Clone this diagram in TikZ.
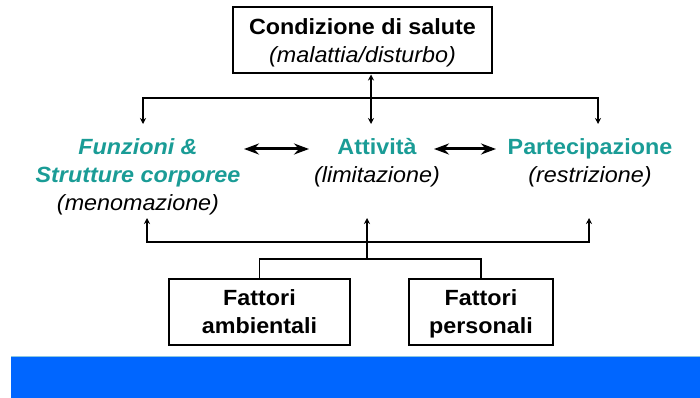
\documentclass[tikz,border=0pt]{standalone}
\usepackage{fontspec}
\setmainfont{Liberation Sans}[FakeStretch=1.06]
\usepackage{tikz}
\usetikzlibrary{arrows.meta}
\tikzset{>=stealth}
\usepackage{xcolor}
\definecolor{myteal}{HTML}{1A9C96}
\definecolor{myband}{HTML}{0066FF}
\definecolor{myedge}{HTML}{8CC8E0}
\tikzset{
	punta/.tip={Stealth[length=6pt,width=6pt]},
	puntona/.tip={Stealth[length=15pt,width=11pt,inset=5pt]},
	box/.style={draw, line width=2pt, inner sep=0pt, minimum height=66pt, align=center, text depth=0pt},
	lbl/.style={inner sep=0pt, align=center, anchor=north},
	link/.style={line width=1.8pt, -punta},
	twoway/.style={line width=3pt, puntona-puntona}
}

\begin{document}
\begin{tikzpicture}[x=1pt, y=-1pt, font=\fontsize{22}{28}\selectfont]
				\useasboundingbox (0,0) rectangle (700,398);
				\fill[myband] (11,356) rectangle (700,398);
				\draw[myedge, line width=1pt] (11,356.5) -- (700,356.5);
				% boxes and labels
				\node[box, minimum width=259pt] (salute) at (362.5,40.5) {\textbf{Condizione di salute}\\\textit{(malattia/disturbo)}};
				\node[lbl] (funzioni) at (138,138) {\textcolor{myteal}{\bfseries\itshape Funzioni \&}\\\textcolor{myteal}{\bfseries\itshape Strutture corporee}\\\textit{(menomazione)}};
				\node[lbl] (attivita) at (377,138) {\textcolor{myteal}{\bfseries Attività}\\\textit{(limitazione)}};
				\node[lbl] (partecipazione) at (590,138) {\textcolor{myteal}{\bfseries Partecipazione}\\\textit{(restrizione)}};
				\node[box, minimum width=181pt] (ambientali) at (259.5,312) {\textbf{Fattori}\\\textbf{ambientali}};
				\node[box, minimum width=144pt] (personali) at (481,312) {\textbf{Fattori}\\\textbf{personali}};
				% top tree
				\coordinate (bivio) at (371,98);
				\coordinate (giusx) at (143,124);
				\coordinate (giumid) at (371,124);
				\coordinate (giudx) at (598,124);
				\draw[link] (bivio) -| (giusx);
				\draw[link] (bivio) -| (giudx);
				\draw[link, punta-punta] (salute.south -| bivio) -- (giumid);
				% double arrows
				\coordinate (fs) at (244,149);
				\coordinate (as) at (309,149);
				\coordinate (ad) at (434,149);
				\coordinate (pd) at (496,149);
				\draw[twoway] (fs) -- (as);
				\draw[twoway] (ad) -- (pd);
				% bottom tree
				\coordinate (nodo) at (367,259);
				\coordinate (raccordo) at (367,242);
				\coordinate (susx) at (147,218);
				\coordinate (sumid) at (367,218);
				\coordinate (sudx) at (589,218);
				\draw[line width=1.8pt] (ambientali.north) |- (nodo) -| (personali.north);
				\draw[line width=1.8pt] (nodo) -- (raccordo);
				\draw[link] (raccordo) -| (susx);
				\draw[link] (raccordo) -| (sudx);
				\draw[link] (raccordo) -- (sumid);
			\end{tikzpicture}
\end{document}
